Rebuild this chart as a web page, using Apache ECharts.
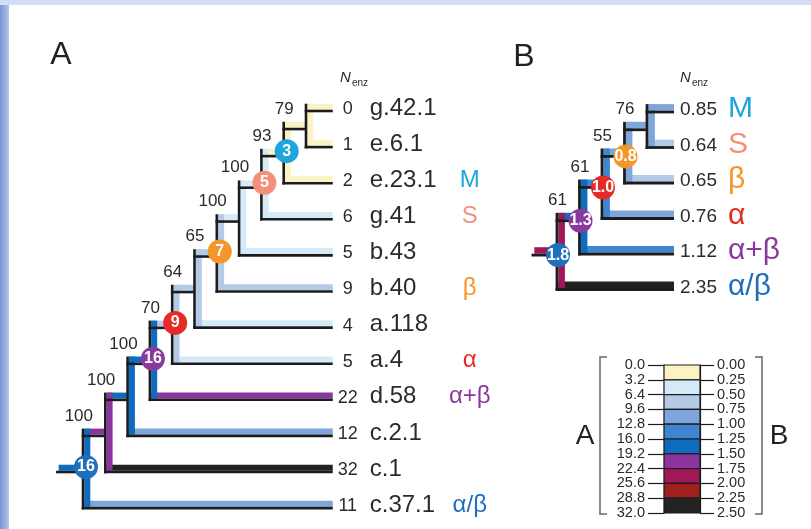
<!DOCTYPE html>
<html>
<head>
<meta charset="utf-8">
<script src="https://cdn.jsdelivr.net/npm/echarts@6/dist/echarts.min.js"></script>
<style>
html, body { margin: 0; padding: 0; background: #fff; }
#chart { width: 811px; height: 529px; }
</style>
</head>
<body>
<div id="chart"></div>
<script>
// ---- panel A: 12 folds ----
const leafNamesA = ['g.42.1', 'e.6.1', 'e.23.1', 'g.41', 'b.43', 'b.40', 'a.118', 'a.4', 'd.58', 'c.2.1', 'c.1', 'c.37.1']
const leafNenzA = [0, 1, 2, 6, 5, 9, 4, 5, 22, 12, 32, 11]
const leafClassA = ['', '', 'M', 'S', '', 'β', '', 'α', 'α+β', '', '', 'α/β']
// internal nodes, children first; 'L#' = leaf, 'N#' = node
const nodeKidsA = [['L0', 'L1'], ['N0', 'L2'], ['N1', 'L3'], ['N2', 'L4'], ['N3', 'L5'], ['N4', 'L6'],
  ['N5', 'L7'], ['N6', 'L8'], ['N7', 'L9'], ['N8', 'L10'], ['N9', 'L11']]
const nodeBootA = [79, 93, 100, 100, 65, 64, 70, 100, 100, 100, null]
const nodeNenzA = [1, 3, 5, 6, 7, 8, 9, 16, 17, 21, 16] // unlabelled ones guessed from colour
const nodeMarkA = ['', 'M', 'S', '', 'β', '', 'α', 'α+β', '', '', 'α/β']

// ---- panel B: 6 classes ----
const leafNamesB = ['M', 'S', 'β', 'α', 'α+β', 'α/β']
const leafNenzB = [0.85, 0.64, 0.65, 0.76, 1.12, 2.35]
const nodeKidsB = [['L0', 'L1'], ['N0', 'L2'], ['N1', 'L3'], ['N2', 'L4'], ['N3', 'L5']]
const nodeBootB = [76, 55, 61, 61, null]
const nodeNenzB = [0.85, 0.8, 1.0, 1.3, 1.8]
const nodeMarkB = ['', 'β', 'α', 'α+β', 'α/β']

// ---- colour scale ----
const scaleTicksA = ['0.0', '3.2', '6.4', '9.6', '12.8', '16.0', '19.2', '22.4', '25.6', '28.8', '32.0']
const scaleTicksB = ['0.00', '0.25', '0.50', '0.75', '1.00', '1.25', '1.50', '1.75', '2.00', '2.25', '2.50']
const binColors = ['#fbf3c4', '#d4eaf8', '#b4cbe8', '#7fa6dc', '#3e86d2', '#0d6cc0', '#8c349e', '#a0185a', '#a02020', '#222222']
const classColors = { 'M': '#1ea6dc', 'S': '#f2907a', 'β': '#f4962a', 'α': '#e62a28', 'α+β': '#8a3a9e', 'α/β': '#1f6fbe' }

const FONT = '"Liberation Sans", Arial, Helvetica, sans-serif'
const INK = '#1c1c1c'
const TXT = '#2b2b2b'
const stepA = 3.2
const stepB = 0.25

const binColor = (v, step) =>
  binColors[Math.max(0, Math.min(binColors.length - 1, Math.floor(v / step + 1e-9)))]

function buildTree(kids, leafVals, nodeVals, tip, stub) {
  const root = kids.length - 1
  const depth = [], ypos = [], parent = []
  const yOf = id => id[0] === 'L' ? +id.slice(1) : ypos[+id.slice(1)]
  kids.forEach((ks, i) => { ypos[i] = (yOf(ks[0]) + yOf(ks[ks.length - 1])) / 2 })
  depth[root] = 0
  for (let i = root; i >= 0; i--) {
    kids[i].forEach(k => {
      if (k[0] === 'N') { depth[+k.slice(1)] = depth[i] + 1; parent[+k.slice(1)] = i }
    })
  }
  const segs = [[stub, ypos[root], 0, ypos[root], nodeVals[root], 0]]
  kids.forEach((ks, i) => ks.forEach(k => {
    const j = +k.slice(1)
    const leaf = k[0] === 'L'
    segs.push([depth[i], yOf(k), leaf ? tip : depth[j], yOf(k), leaf ? leafVals[j] : nodeVals[j], 0])
  }))
  // verticals last so their band sits over the corners
  kids.forEach((ks, i) => segs.push([depth[i], yOf(ks[0]), depth[i], yOf(ks[ks.length - 1]), nodeVals[i], 1]))
  return { depth, ypos, parent, segs }
}

const tipA = 11.2, tipB = 5.2
const treeA = buildTree(nodeKidsA, leafNenzA, nodeNenzA, tipA, -1.15)
const treeB = buildTree(nodeKidsB, leafNenzB, nodeNenzB, tipB, -1.07)

const bandItem = (step, lw, bw) => (params, api) => {
  const a = api.coord([api.value(0), api.value(1)])
  const b = api.coord([api.value(2), api.value(3)])
  const fill = binColor(api.value(4), step)
  if (api.value(5) === 1) {
    return { type: 'rect', shape: { x: a[0] + lw / 2, y: a[1] - lw / 2 - bw, width: bw, height: b[1] - a[1] + bw }, style: { fill } }
  }
  return { type: 'rect', shape: { x: a[0] + lw / 2, y: a[1] - lw / 2 - bw, width: b[0] - a[0] - lw / 2, height: bw }, style: { fill } }
}

const inkItem = (lw, bw) => (params, api) => {
  const a = api.coord([api.value(0), api.value(1)])
  const b = api.coord([api.value(2), api.value(3)])
  if (api.value(5) === 1) {
    return { type: 'rect', shape: { x: a[0] - lw / 2, y: a[1] - lw / 2 - bw, width: lw, height: b[1] - a[1] + bw + lw }, style: { fill: INK } }
  }
  return { type: 'rect', shape: { x: a[0] - lw / 2, y: a[1] - lw / 2, width: b[0] - a[0] + lw / 2, height: lw }, style: { fill: INK } }
}

// text labels placed at data points with a pixel nudge
const textSeries = (idx, items) => ({
  type: 'custom',
  xAxisIndex: idx,
  yAxisIndex: idx,
  z: 5,
  data: items.map(t => [t.x, t.y]),
  renderItem: (params, api) => {
    const t = items[params.dataIndex]
    const p = api.coord([api.value(0), api.value(1)])
    return {
      type: 'text',
      x: p[0] + t.dx,
      y: p[1] + t.dy,
      style: {
        text: t.text, fill: t.color || TXT, fontSize: t.size, fontFamily: FONT,
        fontWeight: t.weight || 'normal', align: t.align, verticalAlign: 'middle'
      }
    }
  }
})

const bootLabels = (tree, boots) => boots.map((b, i) => b == null ? null : {
  x: tree.depth[tree.parent[i]], y: tree.ypos[i], dx: 10, dy: -20, text: String(b), size: 17, align: 'right'
}).filter(Boolean)

const leafTextA = []
leafNamesA.forEach((name, i) => {
  leafTextA.push({ x: tipA, y: i, dx: 15, dy: -2, text: String(leafNenzA[i]), size: 18, align: 'center' })
  leafTextA.push({ x: tipA, y: i, dx: 37, dy: -3, text: name, size: 24, align: 'left' })
  if (leafClassA[i]) {
    leafTextA.push({ x: tipA, y: i, dx: 137, dy: -3, text: leafClassA[i], size: 24, align: 'center', color: classColors[leafClassA[i]] })
  }
})
const leafTextB = []
leafNamesB.forEach((name, i) => {
  leafTextB.push({ x: tipB, y: i, dx: 6, dy: -2, text: leafNenzB[i].toFixed(2), size: 19, align: 'left' })
  leafTextB.push({ x: tipB, y: i, dx: 54, dy: -3, text: name, size: 30, align: 'left', color: classColors[name] })
})

const circleSeries = (idx, tree, vals, marks, offset, fmt) => ({
  type: 'scatter',
  xAxisIndex: idx,
  yAxisIndex: idx,
  z: 6,
  symbol: 'circle',
  symbolSize: 24,
  symbolOffset: offset,
  data: marks.map((m, i) => m ? { value: [tree.depth[i], tree.ypos[i], vals[i]], mark: m } : null).filter(Boolean),
  itemStyle: { color: p => classColors[p.data.mark], opacity: 1 },
  label: {
    show: true, position: 'inside', color: '#fff', fontWeight: 'bold', fontSize: 16, fontFamily: FONT,
    formatter: p => fmt(p.value[2])
  },
  emphasis: { disabled: true }
})

const hiddenAxis = (min, max, extra) => Object.assign({
  type: 'value', min, max, show: false, splitLine: { show: false }
}, extra || {})

const legendAxis = (pos, ticks, margin, tickLen) => ({
  type: 'category',
  gridIndex: 2,
  position: pos,
  data: ticks,
  inverse: true,
  boundaryGap: false,
  axisLine: { show: true, lineStyle: { color: INK, width: 1.2 } },
  axisTick: { show: true, interval: 0, length: tickLen, lineStyle: { color: INK, width: 1.2 } },
  axisLabel: { interval: 0, margin, color: TXT, fontSize: 14.5, fontFamily: FONT },
  splitLine: { show: false }
})

const option = {
  animation: false,
  backgroundColor: '#fff',
  grid: [
    { left: 56.24, top: 92.95, width: 276.52, height: 433.2 },
    { left: 532.25, top: 94.25, width: 141.75, height: 213 },
    { left: 664, top: 365, width: 36, height: 148 }
  ],
  xAxis: [
    hiddenAxis(-1.2, 11.2, { gridIndex: 0 }),
    hiddenAxis(-1.1, 5.2, { gridIndex: 1 }),
    hiddenAxis(0, 1, { gridIndex: 2 })
  ],
  yAxis: [
    hiddenAxis(-0.5, 11.5, { gridIndex: 0, inverse: true }),
    hiddenAxis(-0.5, 5.5, { gridIndex: 1, inverse: true }),
    legendAxis('left', scaleTicksA, 19, 16),
    legendAxis('right', scaleTicksB, 17, 14)
  ],
  graphic: [
    { type: 'rect', shape: { x: 0, y: 0, width: 9, height: 529 }, style: { fill: new echarts.graphic.LinearGradient(0, 0, 1, 0, [{ offset: 0, color: '#7896d2' }, { offset: 1, color: '#b3c6ea' }]) } },
    { type: 'rect', shape: { x: 0, y: 0, width: 811, height: 5 }, style: { fill: '#d3ddf3' } },
    { type: 'text', x: 61, y: 55, style: { text: 'A', fontSize: 32, fontFamily: FONT, fill: '#222', align: 'center', verticalAlign: 'middle' } },
    { type: 'text', x: 524, y: 57, style: { text: 'B', fontSize: 32, fontFamily: FONT, fill: '#222', align: 'center', verticalAlign: 'middle' } },
    { type: 'text', x: 340, y: 78, style: { text: 'N', fontSize: 15, fontStyle: 'italic', fontFamily: FONT, fill: TXT, verticalAlign: 'middle' } },
    { type: 'text', x: 352, y: 83, style: { text: 'enz', fontSize: 10, fontFamily: FONT, fill: TXT, verticalAlign: 'middle' } },
    { type: 'text', x: 680, y: 78, style: { text: 'N', fontSize: 15, fontStyle: 'italic', fontFamily: FONT, fill: TXT, verticalAlign: 'middle' } },
    { type: 'text', x: 692, y: 83, style: { text: 'enz', fontSize: 10, fontFamily: FONT, fill: TXT, verticalAlign: 'middle' } },
    { type: 'polyline', shape: { points: [[607, 357], [600, 357], [600, 514], [607, 514]] }, style: { stroke: '#666', lineWidth: 1.5, fill: null } },
    { type: 'polyline', shape: { points: [[755, 357], [762, 357], [762, 514], [755, 514]] }, style: { stroke: '#666', lineWidth: 1.5, fill: null } },
    { type: 'text', x: 585, y: 436, style: { text: 'A', fontSize: 28, fontFamily: FONT, fill: '#222', align: 'center', verticalAlign: 'middle' } },
    { type: 'text', x: 779, y: 436, style: { text: 'B', fontSize: 28, fontFamily: FONT, fill: '#222', align: 'center', verticalAlign: 'middle' } }
  ],
  series: [
    { type: 'custom', xAxisIndex: 0, yAxisIndex: 0, z: 2, data: treeA.segs, renderItem: bandItem(stepA, 2.6, 6) },
    { type: 'custom', xAxisIndex: 0, yAxisIndex: 0, z: 3, data: treeA.segs, renderItem: inkItem(2.6, 6) },
    { type: 'custom', xAxisIndex: 1, yAxisIndex: 1, z: 2, data: treeB.segs, renderItem: bandItem(stepB, 2.8, 6.5) },
    { type: 'custom', xAxisIndex: 1, yAxisIndex: 1, z: 3, data: treeB.segs, renderItem: inkItem(2.8, 6.5) },
    circleSeries(0, treeA, nodeNenzA, nodeMarkA, [3, -5], v => String(v)),
    circleSeries(1, treeB, nodeNenzB, nodeMarkB, [1, 0], v => v.toFixed(1)),
    textSeries(0, bootLabels(treeA, nodeBootA).concat(leafTextA)),
    textSeries(1, bootLabels(treeB, nodeBootB).concat(leafTextB)),
    {
      // colour bar: one block per bin
      type: 'custom',
      xAxisIndex: 2,
      yAxisIndex: 2,
      z: 3,
      data: binColors.map((c, i) => [0, i]),
      renderItem: (params, api) => {
        const a = api.coord([0, api.value(1)])
        const b = api.coord([1, api.value(1) + 1])
        return {
          type: 'rect',
          shape: { x: a[0], y: a[1], width: b[0] - a[0], height: b[1] - a[1] },
          style: { fill: binColors[params.dataIndex], stroke: INK, lineWidth: 1.2 }
        }
      }
    }
  ]
}

const chart = echarts.init(document.getElementById('chart'))
chart.setOption(option)
window.addEventListener('resize', () => chart.resize())
</script>
</body>
</html>
